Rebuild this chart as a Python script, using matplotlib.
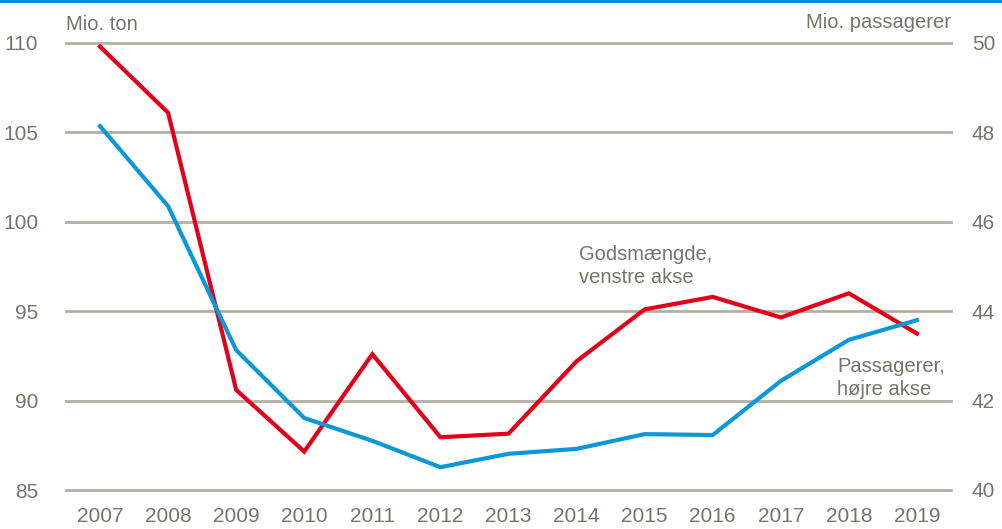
import matplotlib
matplotlib.use("Agg")
import matplotlib.pyplot as plt
from matplotlib.patches import Rectangle

years = ["2007", "2008", "2009", "2010", "2011", "2012", "2013",
         "2014", "2015", "2016", "2017", "2018", "2019"]
gods = [109.8, 106.1, 90.6, 87.15, 92.6, 87.95, 88.15, 92.2, 95.1, 95.8, 94.65, 96.0, 93.75]
passagerer = [48.14, 46.35, 43.13, 41.61, 41.1, 40.51, 40.81, 40.92, 41.25, 41.23, 42.44, 43.36, 43.8]
left_ticks = [85, 90, 95, 100, 105, 110]
right_ticks = [40, 42, 44, 46, 48, 50]

plt.rcParams['font.family'] = ['Liberation Sans', 'DejaVu Sans']
txt = '#76756a'
grid_c = '#b3afa3'
red = '#e2001a'
blue = '#0a98d8'

W, H = 1003, 529
fig = plt.figure(figsize=(W / 100, H / 100), dpi=100)
ax = fig.add_axes([66 / W, (H - 490) / H, (951 - 66) / W, (490 - 43) / H])
ax2 = ax.twinx()

x = list(range(len(years)))
ax.set_xlim(-0.5, len(years) - 0.5)
ax.set_ylim(85, 110)
ax2.set_ylim(40, 50)
ax.set_yticks(left_ticks)
ax2.set_yticks(right_ticks)
ax.set_xticks(x)
ax.set_xticklabels(years)

for y in left_ticks:
    ax.axhline(y, color=grid_c, lw=2.0, zorder=0, clip_on=False)

ax.plot(x, gods, color=red, lw=3, solid_joinstyle='miter', zorder=3)
ax2.plot(x, passagerer, color=blue, lw=3, solid_joinstyle='miter', zorder=3)

for a in (ax, ax2):
    for s in a.spines.values():
        s.set_visible(False)
    a.tick_params(length=0, labelsize=15, colors=txt)
ax.tick_params(axis='y', pad=20)
ax2.tick_params(axis='y', pad=15)
ax.tick_params(axis='x', pad=12)

fig.text(66 / W, (H - 24) / H, "Mio. ton", fontsize=14.5, color=txt, ha='left', va='center')
fig.text(951 / W, (H - 22) / H, "Mio. passagerer", fontsize=14.5, color=txt, ha='right', va='center')

ax.text(579 / W, (H - 266) / H, "Godsmængde,\nvenstre akse", transform=fig.transFigure,
        fontsize=14.5, color=txt, ha='left', va='center', linespacing=1.3)
ax.text(837 / W, (H - 378) / H, "Passagerer,\nhøjre akse", transform=fig.transFigure,
        fontsize=14.5, color=txt, ha='left', va='center', linespacing=1.25)

fig.add_artist(Rectangle((0, (H - 3) / H), 1, 3 / H, transform=fig.transFigure,
                         color='#0090d0', lw=0))

fig.savefig("out.png", dpi=100)
